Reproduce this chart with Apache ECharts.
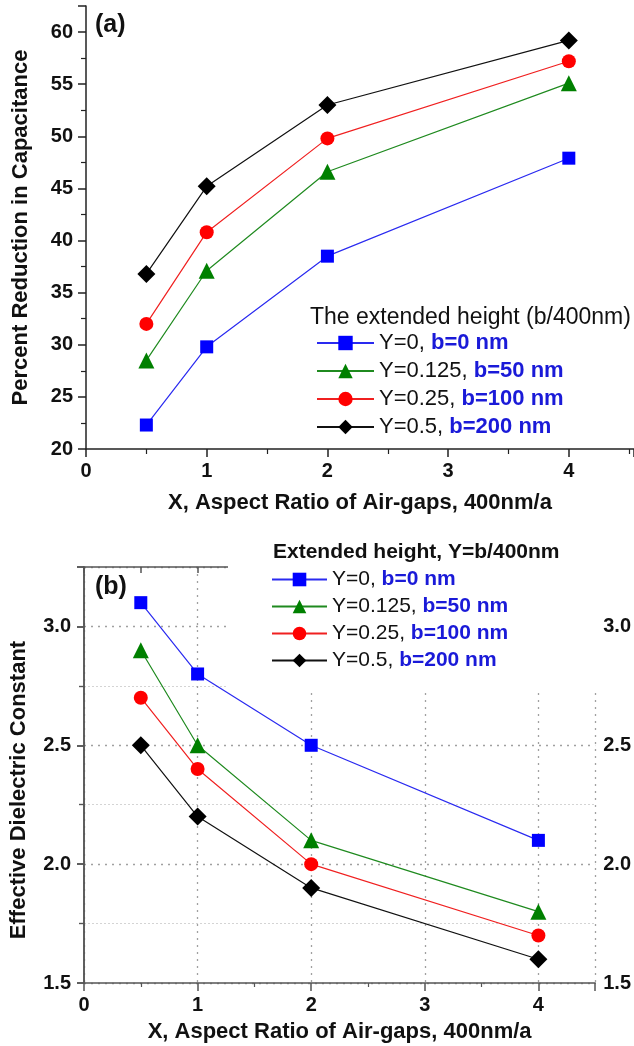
<!DOCTYPE html>
<html>
<head>
<meta charset="utf-8">
<script src="https://cdn.jsdelivr.net/npm/echarts@6/dist/echarts.min.js"></script>
<style>
html,body{margin:0;padding:0;background:#fff;}
#chart{width:634px;height:1046px;}
</style>
</head>
<body>
<div id="chart"></div>
<script>
// ---- data ----
const xValues = [0.5, 1, 2, 4];
const legendYText = ['Y=0, ', 'Y=0.125, ', 'Y=0.25, ', 'Y=0.5, '];
const legendBText = ['b=0 nm', 'b=50 nm', 'b=100 nm', 'b=200 nm'];

// (a) Percent Reduction in Capacitance
const reductionY0    = [22.3, 29.8, 38.5, 47.9];
const reductionY0125 = [28.5, 37.1, 46.6, 55.1];
const reductionY025  = [32.0, 40.8, 49.8, 57.2];
const reductionY05   = [36.8, 45.2, 53.0, 59.2];

// (b) Effective Dielectric Constant
const dielectricY0    = [3.1, 2.8, 2.5, 2.1];
const dielectricY0125 = [2.9, 2.5, 2.1, 1.8];
const dielectricY025  = [2.7, 2.4, 2.0, 1.7];
const dielectricY05   = [2.5, 2.2, 1.9, 1.6];

const xTicksTop = [0, 1, 2, 3, 4];
const yTicksA = [20, 25, 30, 35, 40, 45, 50, 55, 60];
const yTicksB = [1.5, 2.0, 2.5, 3.0];

// ---- styles ----
const FONT = 'Liberation Sans, Arial, sans-serif';
const colors = ['#0000ff', '#008000', '#ff0000', '#000000'];
const lineColors = ['#2a2af0', '#1f8a1f', '#f02020', '#111111'];
const symbols = ['rect', 'triangle', 'circle', 'diamond'];
const symbolSizes = [13, 16, 14, 18];

const seriesA = [reductionY0, reductionY0125, reductionY025, reductionY05];
const seriesB = [dielectricY0, dielectricY0125, dielectricY025, dielectricY05];

function makeSeries(arr, idx, prefix, xi, yi) {
  return {
    name: prefix + idx,
    type: 'line',
    xAxisIndex: xi,
    yAxisIndex: yi,
    data: xValues.map((x, i) => [x, arr[i]]),
    symbol: symbols[idx],
    symbolSize: symbolSizes[idx],
    itemStyle: { color: colors[idx] },
    lineStyle: { color: lineColors[idx], width: 1.2 },
    emphasis: { disabled: true },
    z: 2 + idx
  };
}

const series = [];
seriesA.forEach((arr, i) => series.push(makeSeries(arr, i, 'a', 0, 0)));
seriesB.forEach((arr, i) => series.push(makeSeries(arr, i, 'b', 1, 1)));

function legendFormatter(name) {
  const i = parseInt(name.slice(1), 10);
  return '{n|' + legendYText[i] + '}{b|' + legendBText[i] + '}';
}

const labelStyle = { fontFamily: FONT, fontWeight: 'bold', fontSize: 20, color: '#111' };
const nameStyle = { fontFamily: FONT, fontWeight: 'bold', fontSize: 22, color: '#111' };
const axisA = { lineStyle: { color: '#222', width: 1.5 } };
const axisB = { lineStyle: { color: '#555', width: 1.5 } };

const option = {
  animation: false,
  backgroundColor: '#fff',
  grid: [
    { left: 86, right: 0, top: 6, bottom: 597 },
    { left: 84, right: 37, top: 567, bottom: 63 }
  ],
  xAxis: [
    {
      type: 'value', gridIndex: 0, min: 0, max: 4.54, interval: 1,
      axisLine: { show: true, ...axisA },
      axisTick: { show: true, length: 8, lineStyle: { color: '#222', width: 1.5 } },
      minorTick: { show: true, splitNumber: 2, length: 5, lineStyle: { color: '#222', width: 1.2 } },
      splitLine: { show: false },
      axisLabel: { ...labelStyle, margin: 12, showMaxLabel: false,
        formatter: v => xTicksTop.includes(v) ? String(v) : '' },
      name: 'X, Aspect Ratio of Air-gaps, 400nm/a',
      nameLocation: 'middle', nameGap: 43, nameTextStyle: nameStyle
    },
    {
      type: 'value', gridIndex: 1, min: 0, max: 4.5, interval: 1,
      axisLine: { show: true, ...axisB },
      axisTick: { show: true, length: 8, lineStyle: { color: '#555', width: 1.5 } },
      minorTick: { show: true, splitNumber: 2, length: 4, lineStyle: { color: '#555', width: 1.2 } },
      splitLine: { show: true, lineStyle: { color: '#a0a0a0', width: 1.3, type: [2, 5] } },
      axisLabel: { ...labelStyle, margin: 12, showMaxLabel: false,
        formatter: v => xTicksTop.includes(v) ? String(v) : '' },
      name: 'X, Aspect Ratio of Air-gaps, 400nm/a',
      nameLocation: 'middle', nameGap: 38, nameTextStyle: nameStyle
    },
    {
      type: 'value', gridIndex: 1, position: 'top', min: 0, max: 4.5, interval: 0.5,
      axisLine: { show: true, ...axisB },
      axisTick: { show: true, inside: true, length: 6, lineStyle: { color: '#555', width: 1.5 } },
      axisLabel: { show: false },
      splitLine: { show: false }
    }
  ],
  yAxis: [
    {
      type: 'value', gridIndex: 0, min: 20, max: 62.5, interval: 5,
      axisLine: { show: true, ...axisA },
      axisTick: { show: true, length: 8, lineStyle: { color: '#222', width: 1.5 } },
      minorTick: { show: true, splitNumber: 2, length: 5, lineStyle: { color: '#222', width: 1.2 } },
      splitLine: { show: false },
      axisLabel: { ...labelStyle, margin: 13, showMaxLabel: false,
        formatter: v => yTicksA.includes(v) ? String(v) : '' },
      name: 'Percent Reduction in Capacitance',
      nameLocation: 'middle', nameGap: 54, nameTextStyle: nameStyle
    },
    {
      type: 'value', gridIndex: 1, min: 1.5, max: 3.25, interval: 0.5,
      axisLine: { show: true, ...axisB },
      axisTick: { show: true, length: 7, lineStyle: { color: '#555', width: 1.5 } },
      minorTick: { show: true, splitNumber: 2, length: 5, lineStyle: { color: '#555', width: 1.2 } },
      splitLine: { show: true, lineStyle: { color: '#a0a0a0', width: 1.3, type: [2, 5] } },
      minorSplitLine: { show: true, lineStyle: { color: '#d4d4d4', width: 1, type: [2, 2] } },
      axisLabel: { ...labelStyle, margin: 13, showMaxLabel: false,
        formatter: v => yTicksB.includes(v) ? v.toFixed(1) : '' },
      name: 'Effective Dielectric Constant',
      nameLocation: 'middle', nameGap: 54,
      nameTextStyle: { ...nameStyle, padding: [0, 30, 0, 0] }
    },
    {
      type: 'value', gridIndex: 1, position: 'right', min: 1.5, max: 3.25, interval: 0.5,
      axisLine: { show: true, ...axisB },
      axisTick: { show: true, inside: true, length: 7, lineStyle: { color: '#555', width: 1.5 } },
      minorTick: { show: true, splitNumber: 2, length: 5, lineStyle: { color: '#555', width: 1.2 } },
      splitLine: { show: false },
      axisLabel: { ...labelStyle, margin: 8, showMaxLabel: false,
        formatter: v => yTicksB.includes(v) ? v.toFixed(1) : '' }
    }
  ],
  legend: [
    {
      orient: 'vertical', left: 311, top: 327,
      data: ['a0', 'a1', 'a2', 'a3'],
      itemWidth: 57, itemHeight: 18, itemGap: 6,
      selectedMode: false,
      formatter: legendFormatter,
      textStyle: {
        rich: {
          n: { fontFamily: FONT, fontSize: 22, color: '#111', lineHeight: 24 },
          b: { fontFamily: FONT, fontSize: 22, fontWeight: 'bold', color: '#1a1ad8', lineHeight: 24 }
        }
      }
    },
    {
      orient: 'vertical', left: 266, top: 564,
      data: ['b0', 'b1', 'b2', 'b3'],
      itemWidth: 55, itemHeight: 17, itemGap: 6,
      selectedMode: false,
      formatter: legendFormatter,
      textStyle: {
        rich: {
          n: { fontFamily: FONT, fontSize: 21, color: '#111', lineHeight: 24 },
          b: { fontFamily: FONT, fontSize: 21, fontWeight: 'bold', color: '#1a1ad8', lineHeight: 24 }
        }
      }
    }
  ],
  graphic: {
    elements: [
      { type: 'rect', z: 3, shape: { x: 228, y: 540, width: 372, height: 152 },
        style: { fill: '#fff' } },
      { type: 'text', z: 10, left: 95, top: 13,
        style: { text: '(a)', font: 'bold 25px ' + FONT, fill: '#111' } },
      { type: 'text', z: 10, left: 95, top: 575,
        style: { text: '(b)', font: 'bold 25px ' + FONT, fill: '#111' } },
      { type: 'text', z: 10, left: 310, top: 306,
        style: { text: 'The extended height (b/400nm)', font: '23px ' + FONT, fill: '#111' } },
      { type: 'text', z: 10, left: 273, top: 542,
        style: { text: 'Extended height, Y=b/400nm', font: 'bold 21px ' + FONT, fill: '#111' } }
    ]
  },
  series: series
};

const chart = echarts.init(document.getElementById('chart'), null, { renderer: 'canvas' });
chart.setOption(option);
</script>
</body>
</html>
